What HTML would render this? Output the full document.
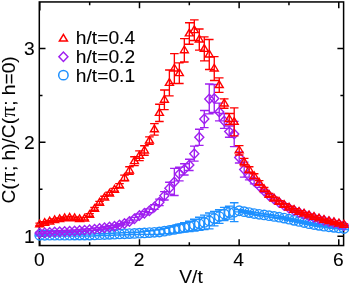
<!DOCTYPE html>
<html><head><meta charset="utf-8"><title>chart</title>
<style>
html,body{margin:0;padding:0;background:#fff;}
svg{display:block;will-change:transform;}
text{font-family:"Liberation Sans",sans-serif;fill:#000;stroke:#000;stroke-width:0.08px;}
</style></head>
<body>
<svg width="349" height="285" viewBox="0 0 349 285">
<rect width="349" height="285" fill="#fff"/>
<rect x="39.3" y="1.95" width="304.3" height="243.60000000000002" fill="none" stroke="#000" stroke-width="1.5"/>
<path d="M39.85 245.55v-6.2M39.85 1.95v8.6M89.67 245.55v-3.2M89.67 1.95v3.2M139.49 245.55v-6.2M139.49 1.95v6.2M189.31 245.55v-3.2M189.31 1.95v3.2M239.13 245.55v-6.2M239.13 1.95v6.2M288.95 245.55v-3.2M288.95 1.95v3.2M338.77 245.55v-6.2M338.77 1.95v6.2M39.3 236.15h6.2M343.6 236.15h-6.2M39.3 189.26h3.2M343.6 189.26h-3.2M39.3 142.37h6.2M343.6 142.37h-6.2M39.3 95.48h3.2M343.6 95.48h-3.2M39.3 48.59h6.2M343.6 48.59h-6.2" stroke="#000" stroke-width="1.5" fill="none"/>
<g fill="none" stroke="#1e90ff" stroke-width="1.35">
<path d="M39.70 236.00V234.50M35.40 236.00h8.6M35.40 234.50h8.6M44.69 236.00V234.47M40.39 236.00h8.6M40.39 234.47h8.6M49.68 236.00V234.43M45.38 236.00h8.6M45.38 234.43h8.6M54.66 236.00V234.39M50.36 236.00h8.6M50.36 234.39h8.6M59.65 236.00V234.35M55.35 236.00h8.6M55.35 234.35h8.6M64.64 236.00V234.32M60.34 236.00h8.6M60.34 234.32h8.6M69.62 236.00V234.28M65.33 236.00h8.6M65.33 234.28h8.6M74.61 236.00V234.24M70.31 236.00h8.6M70.31 234.24h8.6M79.60 236.00V234.20M75.30 236.00h8.6M75.30 234.20h8.6M84.59 236.00V234.17M80.29 236.00h8.6M80.29 234.17h8.6M89.58 236.00V234.13M85.28 236.00h8.6M85.28 234.13h8.6M94.56 235.83V233.92M90.26 235.83h8.6M90.26 233.92h8.6M99.55 235.66V233.72M95.25 235.66h8.6M95.25 233.72h8.6M104.54 235.49V233.51M100.24 235.49h8.6M100.24 233.51h8.6M109.52 235.33V233.31M105.22 235.33h8.6M105.22 233.31h8.6M114.51 235.16V233.10M110.21 235.16h8.6M110.21 233.10h8.6M119.50 234.99V232.89M115.20 234.99h8.6M115.20 232.89h8.6M124.49 234.82V232.69M120.19 234.82h8.6M120.19 232.69h8.6M129.48 234.65V232.48M125.18 234.65h8.6M125.18 232.48h8.6M134.46 234.48V232.28M130.16 234.48h8.6M130.16 232.28h8.6M139.45 234.32V232.07M135.15 234.32h8.6M135.15 232.07h8.6M144.44 234.35V231.43M140.14 234.35h8.6M140.14 231.43h8.6M149.43 234.38V230.79M145.12 234.38h8.6M145.12 230.79h8.6M154.41 234.41V230.15M150.11 234.41h8.6M150.11 230.15h8.6M159.40 234.45V229.51M155.10 234.45h8.6M155.10 229.51h8.6M164.39 233.94V228.33M160.09 233.94h8.6M160.09 228.33h8.6M169.38 233.57V227.02M165.07 233.57h8.6M165.07 227.02h8.6M174.36 233.19V225.71M170.06 233.19h8.6M170.06 225.71h8.6M179.35 232.63V224.21M175.05 232.63h8.6M175.05 224.21h8.6M184.34 232.07V222.72M180.04 232.07h8.6M180.04 222.72h8.6M189.32 231.51V221.22M185.02 231.51h8.6M185.02 221.22h8.6M194.31 230.95V219.25M190.01 230.95h8.6M190.01 219.25h8.6M199.30 230.39V217.29M195.00 230.39h8.6M195.00 217.29h8.6M204.29 229.64V215.14M199.99 229.64h8.6M199.99 215.14h8.6M209.27 228.89V212.99M204.97 228.89h8.6M204.97 212.99h8.6M214.26 225.90V211.30M209.96 225.90h8.6M209.96 211.30h8.6M219.25 223.37V209.71M214.95 223.37h8.6M214.95 209.71h8.6M224.24 220.47V207.37M219.94 220.47h8.6M219.94 207.37h8.6M229.22 219.16V206.06M224.92 219.16h8.6M224.92 206.06h8.6M234.21 221.69V202.79M229.91 221.69h8.6M229.91 202.79h8.6M239.20 211.86V209.62M234.90 211.86h8.6M234.90 209.62h8.6M244.19 212.80V210.55M239.89 212.80h8.6M239.89 210.55h8.6M249.18 213.74V211.49M244.88 213.74h8.6M244.88 211.49h8.6M254.16 214.67V212.43M249.86 214.67h8.6M249.86 212.43h8.6M259.15 215.40V213.15M254.85 215.40h8.6M254.85 213.15h8.6M264.14 216.07V213.83M259.84 216.07h8.6M259.84 213.83h8.6M269.12 216.82V214.59M264.82 216.82h8.6M264.82 214.59h8.6M274.11 217.56V215.36M269.81 217.56h8.6M269.81 215.36h8.6M279.10 218.30V216.12M274.80 218.30h8.6M274.80 216.12h8.6M284.09 219.18V217.03M279.79 219.18h8.6M279.79 217.03h8.6M289.07 220.28V218.15M284.77 220.28h8.6M284.77 218.15h8.6M294.06 221.38V219.27M289.76 221.38h8.6M289.76 219.27h8.6M299.05 222.47V220.39M294.75 222.47h8.6M294.75 220.39h8.6M304.04 223.57V221.51M299.74 223.57h8.6M299.74 221.51h8.6M309.03 224.67V222.63M304.73 224.67h8.6M304.73 222.63h8.6M314.01 225.50V223.49M309.71 225.50h8.6M309.71 223.49h8.6M319.00 226.33V224.34M314.70 226.33h8.6M314.70 224.34h8.6M323.99 227.16V225.19M319.69 227.16h8.6M319.69 225.19h8.6M328.97 227.73V225.79M324.67 227.73h8.6M324.67 225.79h8.6M333.96 228.31V226.39M329.66 228.31h8.6M329.66 226.39h8.6M338.95 228.88V226.98M334.65 228.88h8.6M334.65 226.98h8.6M343.94 229.45V227.58M339.64 229.45h8.6M339.64 227.58h8.6"/>
</g>
<g fill="none" stroke="#1e90ff" stroke-width="1.4" stroke-linejoin="miter">
<circle cx="39.70" cy="235.25" r="4.70"/>
<circle cx="44.69" cy="235.23" r="4.70"/>
<circle cx="49.68" cy="235.21" r="4.70"/>
<circle cx="54.66" cy="235.20" r="4.70"/>
<circle cx="59.65" cy="235.18" r="4.70"/>
<circle cx="64.64" cy="235.16" r="4.70"/>
<circle cx="69.62" cy="235.14" r="4.70"/>
<circle cx="74.61" cy="235.12" r="4.70"/>
<circle cx="79.60" cy="235.10" r="4.70"/>
<circle cx="84.59" cy="235.08" r="4.70"/>
<circle cx="89.58" cy="235.06" r="4.70"/>
<circle cx="94.56" cy="234.88" r="4.70"/>
<circle cx="99.55" cy="234.69" r="4.70"/>
<circle cx="104.54" cy="234.50" r="4.70"/>
<circle cx="109.52" cy="234.32" r="4.70"/>
<circle cx="114.51" cy="234.13" r="4.70"/>
<circle cx="119.50" cy="233.94" r="4.70"/>
<circle cx="124.49" cy="233.75" r="4.70"/>
<circle cx="129.48" cy="233.57" r="4.70"/>
<circle cx="134.46" cy="233.38" r="4.70"/>
<circle cx="139.45" cy="233.19" r="4.70"/>
<circle cx="144.44" cy="232.89" r="4.70"/>
<circle cx="149.43" cy="232.59" r="4.70"/>
<circle cx="154.41" cy="232.28" r="4.70"/>
<circle cx="159.40" cy="231.98" r="4.70"/>
<circle cx="164.39" cy="231.14" r="4.70"/>
<circle cx="169.38" cy="230.29" r="4.70"/>
<circle cx="174.36" cy="229.45" r="4.70"/>
<circle cx="179.35" cy="228.42" r="4.70"/>
<circle cx="184.34" cy="227.39" r="4.70"/>
<circle cx="189.32" cy="226.36" r="4.70"/>
<circle cx="194.31" cy="225.10" r="4.70"/>
<circle cx="199.30" cy="223.84" r="4.70"/>
<circle cx="204.29" cy="222.39" r="4.70"/>
<circle cx="209.27" cy="220.94" r="4.70"/>
<circle cx="214.26" cy="218.60" r="4.70"/>
<circle cx="219.25" cy="216.54" r="4.70"/>
<circle cx="224.24" cy="213.92" r="4.70"/>
<circle cx="229.22" cy="212.61" r="4.70"/>
<circle cx="234.21" cy="212.24" r="4.70"/>
<circle cx="239.20" cy="210.74" r="4.70"/>
<circle cx="244.19" cy="211.68" r="4.70"/>
<circle cx="249.18" cy="212.61" r="4.70"/>
<circle cx="254.16" cy="213.55" r="4.70"/>
<circle cx="259.15" cy="214.28" r="4.70"/>
<circle cx="264.14" cy="214.95" r="4.70"/>
<circle cx="269.12" cy="215.70" r="4.70"/>
<circle cx="274.11" cy="216.46" r="4.70"/>
<circle cx="279.10" cy="217.21" r="4.70"/>
<circle cx="284.09" cy="218.11" r="4.70"/>
<circle cx="289.07" cy="219.22" r="4.70"/>
<circle cx="294.06" cy="220.33" r="4.70"/>
<circle cx="299.05" cy="221.43" r="4.70"/>
<circle cx="304.04" cy="222.54" r="4.70"/>
<circle cx="309.03" cy="223.65" r="4.70"/>
<circle cx="314.01" cy="224.49" r="4.70"/>
<circle cx="319.00" cy="225.34" r="4.70"/>
<circle cx="323.99" cy="226.18" r="4.70"/>
<circle cx="328.97" cy="226.76" r="4.70"/>
<circle cx="333.96" cy="227.35" r="4.70"/>
<circle cx="338.95" cy="227.93" r="4.70"/>
<circle cx="343.94" cy="228.52" r="4.70"/>
</g>
<g fill="none" stroke="#a020f0" stroke-width="1.35">
<path d="M39.70 233.94V232.07M35.40 233.94h8.6M35.40 232.07h8.6M44.69 233.65V231.74M40.39 233.65h8.6M40.39 231.74h8.6M49.68 233.37V231.40M45.38 233.37h8.6M45.38 231.40h8.6M54.66 233.08V231.07M50.36 233.08h8.6M50.36 231.07h8.6M59.65 232.82V230.76M55.35 232.82h8.6M55.35 230.76h8.6M64.64 232.56V230.46M60.34 232.56h8.6M60.34 230.46h8.6M69.62 232.30V230.15M65.33 232.30h8.6M65.33 230.15h8.6M74.61 232.05V229.85M70.31 232.05h8.6M70.31 229.85h8.6M79.60 231.67V229.42M75.30 231.67h8.6M75.30 229.42h8.6M84.59 231.28V228.99M80.29 231.28h8.6M80.29 228.99h8.6M89.58 230.90V228.56M85.28 230.90h8.6M85.28 228.56h8.6M94.56 230.32V227.93M90.26 230.32h8.6M90.26 227.93h8.6M99.55 229.73V227.30M95.25 229.73h8.6M95.25 227.30h8.6M104.54 228.98V226.50M100.24 228.98h8.6M100.24 226.50h8.6M109.52 228.22V225.69M105.22 228.22h8.6M105.22 225.69h8.6M114.51 227.46V224.89M110.21 227.46h8.6M110.21 224.89h8.6M119.50 226.18V223.56M115.20 226.18h8.6M115.20 223.56h8.6M124.49 224.89V222.22M120.19 224.89h8.6M120.19 222.22h8.6M129.48 222.86V220.14M125.18 222.86h8.6M125.18 220.14h8.6M134.46 220.07V217.31M130.16 220.07h8.6M130.16 217.31h8.6M139.45 216.82V214.02M135.15 216.82h8.6M135.15 214.02h8.6M144.44 214.90V211.63M140.14 214.90h8.6M140.14 211.63h8.6M149.43 212.61V208.87M145.12 212.61h8.6M145.12 208.87h8.6M154.41 209.34V204.66M150.11 209.34h8.6M150.11 204.66h8.6M159.40 205.60V199.05M155.10 205.60h8.6M155.10 199.05h8.6M164.39 199.98V191.56M160.09 199.98h8.6M160.09 191.56h8.6M169.38 194.18V182.21M165.07 194.18h8.6M165.07 182.21h8.6M174.36 195.49V168.36M170.06 195.49h8.6M170.06 168.36h8.6M179.35 180.90V167.05M175.05 180.90h8.6M175.05 167.05h8.6M184.34 175.01V163.78M180.04 175.01h8.6M180.04 163.78h8.6M189.32 170.51V159.29M185.02 170.51h8.6M185.02 159.29h8.6M194.31 161.16V146.19M190.01 161.16h8.6M190.01 146.19h8.6M199.30 145.35V129.26M195.00 145.35h8.6M195.00 129.26h8.6M204.29 127.67V110.46M199.99 127.67h8.6M199.99 110.46h8.6M209.27 113.92V83.98M204.97 113.92h8.6M204.97 83.98h8.6M214.26 112.51V84.45M209.96 112.51h8.6M209.96 84.45h8.6M219.25 120.93V103.16M214.95 120.93h8.6M214.95 103.16h8.6M224.24 128.42V113.45M219.94 128.42h8.6M219.94 113.45h8.6M229.22 137.21V125.99M224.92 137.21h8.6M224.92 125.99h8.6M234.21 146.66V121.40M229.91 146.66h8.6M229.91 121.40h8.6M239.20 163.03V151.81M234.90 163.03h8.6M234.90 151.81h8.6M244.19 177.06V162.10M239.89 177.06h8.6M239.89 162.10h8.6M249.18 179.87V172.39M244.88 179.87h8.6M244.88 172.39h8.6M254.16 183.85V178.70M249.86 183.85h8.6M249.86 178.70h8.6M259.15 187.35V184.55M254.85 187.35h8.6M254.85 184.55h8.6M264.14 192.47V189.72M259.84 192.47h8.6M259.84 189.72h8.6M269.12 197.12V194.43M264.82 197.12h8.6M264.82 194.43h8.6M274.11 200.65V198.01M269.81 200.65h8.6M269.81 198.01h8.6M279.10 203.90V201.31M274.80 203.90h8.6M274.80 201.31h8.6M284.09 206.88V204.35M279.79 206.88h8.6M279.79 204.35h8.6M289.07 209.46V206.98M284.77 209.46h8.6M284.77 206.98h8.6M294.06 211.79V209.37M289.76 211.79h8.6M289.76 209.37h8.6M299.05 213.65V211.29M294.75 213.65h8.6M294.75 211.29h8.6M304.04 215.43V213.12M299.74 215.43h8.6M299.74 213.12h8.6M309.03 217.20V214.95M304.73 217.20h8.6M304.73 214.95h8.6M314.01 218.70V216.50M309.71 218.70h8.6M309.71 216.50h8.6M319.00 220.20V218.05M314.70 220.20h8.6M314.70 218.05h8.6M323.99 221.59V219.50M319.69 221.59h8.6M319.69 219.50h8.6M328.97 222.74V220.70M324.67 222.74h8.6M324.67 220.70h8.6M333.96 223.89V221.91M329.66 223.89h8.6M329.66 221.91h8.6M338.95 225.11V223.18M334.65 225.11h8.6M334.65 223.18h8.6M343.94 226.36V224.49M339.64 226.36h8.6M339.64 224.49h8.6"/>
</g>
<g fill="none" stroke="#a020f0" stroke-width="1.4" stroke-linejoin="miter">
<path d="M35.20 233.01L39.70 228.31L44.20 233.01L39.70 237.71Z"/>
<path d="M40.19 232.69L44.69 227.99L49.19 232.69L44.69 237.39Z"/>
<path d="M45.18 232.38L49.68 227.68L54.18 232.38L49.68 237.08Z"/>
<path d="M50.16 232.07L54.66 227.37L59.16 232.07L54.66 236.77Z"/>
<path d="M55.15 231.79L59.65 227.09L64.15 231.79L59.65 236.49Z"/>
<path d="M60.14 231.51L64.64 226.81L69.14 231.51L64.64 236.21Z"/>
<path d="M65.12 231.23L69.62 226.53L74.12 231.23L69.62 235.93Z"/>
<path d="M70.11 230.95L74.61 226.25L79.11 230.95L74.61 235.65Z"/>
<path d="M75.10 230.54L79.60 225.84L84.10 230.54L79.60 235.24Z"/>
<path d="M80.09 230.14L84.59 225.44L89.09 230.14L84.59 234.84Z"/>
<path d="M85.08 229.73L89.58 225.03L94.08 229.73L89.58 234.43Z"/>
<path d="M90.06 229.12L94.56 224.42L99.06 229.12L94.56 233.82Z"/>
<path d="M95.05 228.52L99.55 223.82L104.05 228.52L99.55 233.22Z"/>
<path d="M100.04 227.74L104.54 223.04L109.04 227.74L104.54 232.44Z"/>
<path d="M105.02 226.96L109.52 222.26L114.02 226.96L109.52 231.66Z"/>
<path d="M110.01 226.18L114.51 221.48L119.01 226.18L114.51 230.88Z"/>
<path d="M115.00 224.87L119.50 220.17L124.00 224.87L119.50 229.57Z"/>
<path d="M119.99 223.56L124.49 218.86L128.99 223.56L124.49 228.26Z"/>
<path d="M124.98 221.50L129.48 216.80L133.98 221.50L129.48 226.20Z"/>
<path d="M129.96 218.69L134.46 213.99L138.96 218.69L134.46 223.39Z"/>
<path d="M134.95 215.42L139.45 210.72L143.95 215.42L139.45 220.12Z"/>
<path d="M139.94 213.27L144.44 208.57L148.94 213.27L144.44 217.97Z"/>
<path d="M144.93 210.74L149.43 206.04L153.93 210.74L149.43 215.44Z"/>
<path d="M149.91 207.00L154.41 202.30L158.91 207.00L154.41 211.70Z"/>
<path d="M154.90 202.32L159.40 197.62L163.90 202.32L159.40 207.02Z"/>
<path d="M159.89 195.77L164.39 191.07L168.89 195.77L164.39 200.47Z"/>
<path d="M164.88 188.20L169.38 183.50L173.88 188.20L169.38 192.90Z"/>
<path d="M169.86 181.93L174.36 177.23L178.86 181.93L174.36 186.63Z"/>
<path d="M174.85 173.98L179.35 169.28L183.85 173.98L179.35 178.68Z"/>
<path d="M179.84 169.39L184.34 164.69L188.84 169.39L184.34 174.09Z"/>
<path d="M184.82 164.90L189.32 160.20L193.82 164.90L189.32 169.60Z"/>
<path d="M189.81 153.68L194.31 148.98L198.81 153.68L194.31 158.38Z"/>
<path d="M194.80 137.30L199.30 132.60L203.80 137.30L199.30 142.00Z"/>
<path d="M199.79 119.06L204.29 114.36L208.79 119.06L204.29 123.76Z"/>
<path d="M204.77 98.95L209.27 94.25L213.77 98.95L209.27 103.65Z"/>
<path d="M209.76 98.48L214.26 93.78L218.76 98.48L214.26 103.18Z"/>
<path d="M214.75 112.05L219.25 107.35L223.75 112.05L219.25 116.75Z"/>
<path d="M219.74 120.93L224.24 116.23L228.74 120.93L224.24 125.63Z"/>
<path d="M224.72 131.60L229.22 126.90L233.72 131.60L229.22 136.30Z"/>
<path d="M229.71 134.03L234.21 129.33L238.71 134.03L234.21 138.73Z"/>
<path d="M234.70 157.42L239.20 152.72L243.70 157.42L239.20 162.12Z"/>
<path d="M239.69 169.58L244.19 164.88L248.69 169.58L244.19 174.28Z"/>
<path d="M244.68 176.13L249.18 171.43L253.68 176.13L249.18 180.83Z"/>
<path d="M249.66 181.27L254.16 176.57L258.66 181.27L254.16 185.97Z"/>
<path d="M254.65 185.95L259.15 181.25L263.65 185.95L259.15 190.65Z"/>
<path d="M259.64 191.10L264.14 186.40L268.64 191.10L264.14 195.80Z"/>
<path d="M264.62 195.77L269.12 191.07L273.62 195.77L269.12 200.47Z"/>
<path d="M269.61 199.33L274.11 194.63L278.61 199.33L274.11 204.03Z"/>
<path d="M274.60 202.60L279.10 197.90L283.60 202.60L279.10 207.30Z"/>
<path d="M279.59 205.61L284.09 200.91L288.59 205.61L284.09 210.31Z"/>
<path d="M284.57 208.22L289.07 203.52L293.57 208.22L289.07 212.92Z"/>
<path d="M289.56 210.58L294.06 205.88L298.56 210.58L294.06 215.28Z"/>
<path d="M294.55 212.47L299.05 207.77L303.55 212.47L299.05 217.17Z"/>
<path d="M299.54 214.27L304.04 209.57L308.54 214.27L304.04 218.97Z"/>
<path d="M304.53 216.07L309.03 211.37L313.53 216.07L309.03 220.77Z"/>
<path d="M309.51 217.60L314.01 212.90L318.51 217.60L314.01 222.30Z"/>
<path d="M314.50 219.12L319.00 214.42L323.50 219.12L319.00 223.82Z"/>
<path d="M319.49 220.54L323.99 215.84L328.49 220.54L323.99 225.24Z"/>
<path d="M324.47 221.72L328.97 217.02L333.47 221.72L328.97 226.42Z"/>
<path d="M329.46 222.90L333.96 218.20L338.46 222.90L333.96 227.60Z"/>
<path d="M334.45 224.14L338.95 219.44L343.45 224.14L338.95 228.84Z"/>
<path d="M339.44 225.43L343.94 220.73L348.44 225.43L343.94 230.13Z"/>
</g>
<g fill="none" stroke="#ff0000" stroke-width="1.35">
<path d="M39.70 225.43V223.18M35.40 225.43h8.6M35.40 223.18h8.6M44.69 224.04V221.76M40.39 224.04h8.6M40.39 221.76h8.6M49.68 222.66V220.34M45.38 222.66h8.6M45.38 220.34h8.6M54.66 221.28V218.92M50.36 221.28h8.6M50.36 218.92h8.6M59.65 220.36V217.96M55.35 220.36h8.6M55.35 217.96h8.6M64.64 219.44V217.01M60.34 219.44h8.6M60.34 217.01h8.6M69.62 218.99V216.52M65.33 218.99h8.6M65.33 216.52h8.6M74.61 219.48V216.97M70.31 219.48h8.6M70.31 216.97h8.6M79.60 220.43V217.89M75.30 220.43h8.6M75.30 217.89h8.6M84.59 219.98V217.40M80.29 219.98h8.6M80.29 217.40h8.6M89.58 216.26V213.64M85.28 216.26h8.6M85.28 213.64h8.6M94.56 210.20V207.54M90.26 210.20h8.6M90.26 207.54h8.6M99.55 204.14V201.44M95.25 204.14h8.6M95.25 201.44h8.6M104.54 199.01V196.28M100.24 199.01h8.6M100.24 196.28h8.6M109.52 195.01V192.24M105.22 195.01h8.6M105.22 192.24h8.6M114.51 191.19V188.38M110.21 191.19h8.6M110.21 188.38h8.6M119.50 187.35V183.61M115.20 187.35h8.6M115.20 183.61h8.6M124.49 180.81V175.19M120.19 180.81h8.6M120.19 175.19h8.6M129.48 174.26V166.77M125.18 174.26h8.6M125.18 166.77h8.6M134.46 165.56V156.76M130.16 165.56h8.6M130.16 156.76h8.6M139.45 160.60V150.87M135.15 160.60h8.6M135.15 150.87h8.6M144.44 155.27V145.72M140.14 155.27h8.6M140.14 145.72h8.6M149.43 144.32V136.84M145.12 144.32h8.6M145.12 136.84h8.6M154.41 135.06V123.65M150.11 135.06h8.6M150.11 123.65h8.6M159.40 121.49V104.28M155.10 121.49h8.6M155.10 104.28h8.6M164.39 109.61V89.97M160.09 109.61h8.6M160.09 89.97h8.6M169.38 95.86V70.04M165.07 95.86h8.6M165.07 70.04h8.6M174.36 83.51V53.58M170.06 83.51h8.6M170.06 53.58h8.6M179.35 83.51V62.93M175.05 83.51h8.6M175.05 62.93h8.6M184.34 62.00V38.61M180.04 62.00h8.6M180.04 38.61h8.6M189.32 44.22V22.71M185.02 44.22h8.6M185.02 22.71h8.6M194.31 40.48V19.90M190.01 40.48h8.6M190.01 19.90h8.6M199.30 50.12V28.97M195.00 50.12h8.6M195.00 28.97h8.6M204.29 60.87V36.93M199.99 60.87h8.6M199.99 36.93h8.6M209.27 69.48V39.54M204.97 69.48h8.6M204.97 39.54h8.6M214.26 80.52V56.57M209.96 80.52h8.6M209.96 56.57h8.6M219.25 92.31V77.90M214.95 92.31h8.6M214.95 77.90h8.6M224.24 108.21V98.86M219.94 108.21h8.6M219.94 98.86h8.6M229.22 124.68V113.45M224.92 124.68h8.6M224.92 113.45h8.6M234.21 135.90V107.84M229.91 135.90h8.6M229.91 107.84h8.6M239.20 154.99V145.63M234.90 154.99h8.6M234.90 145.63h8.6M244.19 165.84V158.35M239.89 165.84h8.6M239.89 158.35h8.6M249.18 172.81V166.73M244.88 172.81h8.6M244.88 166.73h8.6M254.16 178.47V173.79M249.86 178.47h8.6M249.86 173.79h8.6M259.15 184.70V180.65M254.85 184.70h8.6M254.85 180.65h8.6M264.14 190.94V187.51M259.84 190.94h8.6M259.84 187.51h8.6M269.12 196.24V193.43M264.82 196.24h8.6M264.82 193.43h8.6M274.11 199.95V197.21M269.81 199.95h8.6M269.81 197.21h8.6M279.10 203.25V200.57M274.80 203.25h8.6M274.80 200.57h8.6M284.09 206.27V203.65M279.79 206.27h8.6M279.79 203.65h8.6M289.07 208.84V206.29M284.77 208.84h8.6M284.77 206.29h8.6M294.06 211.17V208.68M289.76 211.17h8.6M289.76 208.68h8.6M299.05 213.03V210.60M294.75 213.03h8.6M294.75 210.60h8.6M304.04 214.80V212.43M299.74 214.80h8.6M299.74 212.43h8.6M309.03 216.57V214.27M304.73 216.57h8.6M304.73 214.27h8.6M314.01 218.07V215.82M309.71 218.07h8.6M309.71 215.82h8.6M319.00 219.56V217.38M314.70 219.56h8.6M314.70 217.38h8.6M323.99 220.95V218.83M319.69 220.95h8.6M319.69 218.83h8.6M328.97 222.10V220.04M324.67 222.10h8.6M324.67 220.04h8.6M333.96 223.24V221.25M329.66 223.24h8.6M329.66 221.25h8.6M338.95 224.45V222.52M334.65 224.45h8.6M334.65 222.52h8.6M343.94 225.71V223.84M339.64 225.71h8.6M339.64 223.84h8.6"/>
</g>
<g fill="none" stroke="#ff0000" stroke-width="1.4" stroke-linejoin="miter">
<path d="M35.70 226.76L43.70 226.76L39.70 220.01Z"/>
<path d="M40.69 225.35L48.69 225.35L44.69 218.60Z"/>
<path d="M45.68 223.95L53.68 223.95L49.68 217.20Z"/>
<path d="M50.66 222.55L58.66 222.55L54.66 215.80Z"/>
<path d="M55.65 221.61L63.65 221.61L59.65 214.86Z"/>
<path d="M60.64 220.68L68.64 220.68L64.64 213.93Z"/>
<path d="M65.62 220.21L73.62 220.21L69.62 213.46Z"/>
<path d="M70.61 220.68L78.61 220.68L74.61 213.93Z"/>
<path d="M75.60 221.61L83.60 221.61L79.60 214.86Z"/>
<path d="M80.59 221.14L88.59 221.14L84.59 214.39Z"/>
<path d="M85.58 217.40L93.58 217.40L89.58 210.65Z"/>
<path d="M90.56 211.32L98.56 211.32L94.56 204.57Z"/>
<path d="M95.55 205.24L103.55 205.24L99.55 198.49Z"/>
<path d="M100.54 200.09L108.54 200.09L104.54 193.34Z"/>
<path d="M105.52 196.07L113.52 196.07L109.52 189.32Z"/>
<path d="M110.51 192.24L118.51 192.24L114.51 185.49Z"/>
<path d="M115.50 187.93L123.50 187.93L119.50 181.18Z"/>
<path d="M120.49 180.45L128.49 180.45L124.49 173.70Z"/>
<path d="M125.48 172.96L133.48 172.96L129.48 166.21Z"/>
<path d="M130.46 163.61L138.46 163.61L134.46 156.86Z"/>
<path d="M135.45 158.18L143.45 158.18L139.45 151.43Z"/>
<path d="M140.44 152.95L148.44 152.95L144.44 146.20Z"/>
<path d="M145.43 143.03L153.43 143.03L149.43 136.28Z"/>
<path d="M150.41 131.80L158.41 131.80L154.41 125.05Z"/>
<path d="M155.40 115.34L163.40 115.34L159.40 108.59Z"/>
<path d="M160.39 102.24L168.39 102.24L164.39 95.49Z"/>
<path d="M165.38 85.40L173.38 85.40L169.38 78.65Z"/>
<path d="M170.36 71.00L178.36 71.00L174.36 64.25Z"/>
<path d="M175.35 75.67L183.35 75.67L179.35 68.92Z"/>
<path d="M180.34 52.75L188.34 52.75L184.34 46.00Z"/>
<path d="M185.32 35.91L193.32 35.91L189.32 29.16Z"/>
<path d="M190.31 32.64L198.31 32.64L194.31 25.89Z"/>
<path d="M195.30 41.99L203.30 41.99L199.30 35.24Z"/>
<path d="M200.29 51.35L208.29 51.35L204.29 44.60Z"/>
<path d="M205.27 56.96L213.27 56.96L209.27 50.21Z"/>
<path d="M210.26 71.00L218.26 71.00L214.26 64.25Z"/>
<path d="M215.25 87.55L223.25 87.55L219.25 80.80Z"/>
<path d="M220.24 105.98L228.24 105.98L224.24 99.23Z"/>
<path d="M225.22 121.51L233.22 121.51L229.22 114.76Z"/>
<path d="M230.21 124.32L238.21 124.32L234.21 117.57Z"/>
<path d="M235.20 152.76L243.20 152.76L239.20 146.01Z"/>
<path d="M240.19 164.55L248.19 164.55L244.19 157.80Z"/>
<path d="M245.18 172.22L253.18 172.22L249.18 165.47Z"/>
<path d="M250.16 178.58L258.16 178.58L254.16 171.83Z"/>
<path d="M255.15 185.13L263.15 185.13L259.15 178.38Z"/>
<path d="M260.14 191.67L268.14 191.67L264.14 184.92Z"/>
<path d="M265.12 197.29L273.12 197.29L269.12 190.54Z"/>
<path d="M270.11 201.03L278.11 201.03L274.11 194.28Z"/>
<path d="M275.10 204.36L283.10 204.36L279.10 197.61Z"/>
<path d="M280.09 207.41L288.09 207.41L284.09 200.66Z"/>
<path d="M285.07 210.02L293.07 210.02L289.07 203.27Z"/>
<path d="M290.06 212.37L298.06 212.37L294.06 205.62Z"/>
<path d="M295.05 214.27L303.05 214.27L299.05 207.52Z"/>
<path d="M300.04 216.07L308.04 216.07L304.04 209.32Z"/>
<path d="M305.03 217.87L313.03 217.87L309.03 211.12Z"/>
<path d="M310.01 219.39L318.01 219.39L314.01 212.64Z"/>
<path d="M315.00 220.92L323.00 220.92L319.00 214.17Z"/>
<path d="M319.99 222.34L327.99 222.34L323.99 215.59Z"/>
<path d="M324.97 223.52L332.97 223.52L328.97 216.77Z"/>
<path d="M329.96 224.69L337.96 224.69L333.96 217.94Z"/>
<path d="M334.95 225.94L342.95 225.94L338.95 219.19Z"/>
<path d="M339.94 227.22L347.94 227.22L343.94 220.47Z"/>
</g>
<g fill="none" stroke="#ff0000" stroke-width="1.5"><path d="M59.40 41.00L67.40 41.00L63.40 34.35Z"/></g>
<g fill="none" stroke="#a020f0" stroke-width="1.5"><path d="M58.90 56.75L63.40 52.05L67.90 56.75L63.40 61.45Z"/></g>
<g fill="none" stroke="#1e90ff" stroke-width="1.5"><circle cx="63.40" cy="75.15" r="4.70"/></g>
<text transform="translate(39.35,265.9) scale(1.04,1)" text-anchor="middle" font-size="18.5">0</text>
<text transform="translate(138.99,265.9) scale(1.04,1)" text-anchor="middle" font-size="18.5">2</text>
<text transform="translate(238.63,265.9) scale(1.04,1)" text-anchor="middle" font-size="18.5">4</text>
<text transform="translate(338.27,265.9) scale(1.04,1)" text-anchor="middle" font-size="18.5">6</text>
<text transform="translate(34.7,242.7) scale(1.04,1)" text-anchor="end" font-size="18.5">1</text>
<text transform="translate(34.7,148.92) scale(1.04,1)" text-anchor="end" font-size="18.5">2</text>
<text transform="translate(34.7,55.14) scale(1.04,1)" text-anchor="end" font-size="18.5">3</text>
<text transform="translate(191.0,282.6) scale(1.04,1)" text-anchor="middle" font-size="18.5">V/t</text>
<text transform="translate(14.6,129.9) rotate(-90) scale(1.035,1)" text-anchor="middle" font-size="18.5">C(<tspan font-family="Liberation Serif" font-size="20.5" dx="0.7">&#960;</tspan><tspan dx="0.7">; h)/C(</tspan><tspan font-family="Liberation Serif" font-size="20.5" dx="0.7">&#960;</tspan><tspan dx="0.7">; h=0)</tspan></text>
<text transform="translate(75.8,44.4) scale(1.068,1)" text-anchor="start" font-size="18">h/t=0.4</text>
<text transform="translate(75.8,62.9) scale(1.068,1)" text-anchor="start" font-size="18">h/t=0.2</text>
<text transform="translate(75.8,81.5) scale(1.068,1)" text-anchor="start" font-size="18">h/t=0.1</text>
</svg>
</body></html>
